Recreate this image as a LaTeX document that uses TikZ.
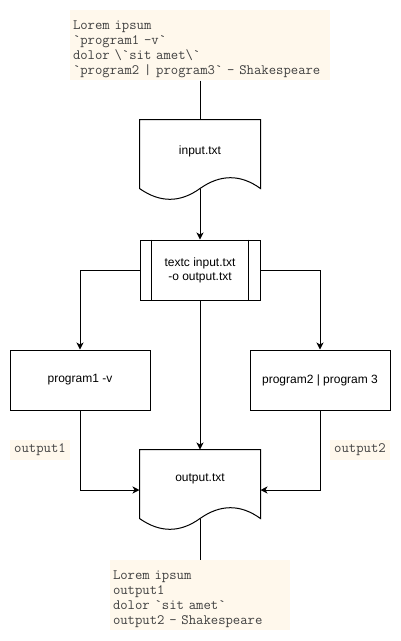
\documentclass[tikz,border=0pt]{standalone}
\usepackage{fontspec}
\setmainfont{Liberation Sans}
\usetikzlibrary{calc,arrows.meta}
\definecolor{notebg}{RGB}{255,248,236}

\begin{document}
\begin{tikzpicture}[x=1pt,y=-1pt,line width=1pt,
    font=\fontsize{12}{14}\selectfont,
    note/.style={fill=notebg,text=black!75,inner xsep=3pt,inner ysep=0pt,align=left,
      minimum height=70,font=\ttfamily\fontsize{14.3}{15}\selectfont,
      execute at begin node={\rule{0pt}{17pt}}},
    tag/.style={fill=notebg,text=black!75,minimum width=60,minimum height=20,inner sep=0pt,
      font=\ttfamily\fontsize{14.3}{15}\selectfont},
    box/.style={draw,minimum width=140,minimum height=60,inner sep=0pt,align=center},
    doc/.style={minimum width=120,minimum height=80,inner sep=0pt},
    arr/.style={-{Stealth[length=7pt,width=7pt,inset=2pt]}}]
  \useasboundingbox (0,0) rectangle (401,641);
  % notes
  \node[note,text width=254] (srcnote) at (200,45) {Lorem ipsum\\`program1 -v`\\dolor \textbackslash`sit amet\textbackslash`\\`program2 | program3` - Shakespeare};
  \node[note,text width=174] (dstnote) at (200,595) {Lorem ipsum\\output1\\dolor `sit amet`\\output2 - Shakespeare};
  % documents
  \node[doc,label={[yshift=9pt]center:input.txt}] (input) at (200,160) {};
  \node[doc,label={[yshift=11pt]center:output.txt}] (output) at (200,490) {};
  \foreach \d in {input,output}{
    \draw (\d.south west) ++(0,-12) -- (\d.north west) -- (\d.north east) -- ($(\d.south east)+(0,-12)$)
      .. controls ($(\d.south east)+(-20,-26.4)$) and ($(\d.south east)+(-40,-26.4)$) .. ($(\d.south)+(0,-12)$) coordinate (\d-w)
      .. controls ($(\d.south)+(-20,2.4)$) and ($(\d.south)+(-40,2.4)$) .. ($(\d.south west)+(0,-12)$);
  }
  % process
  \node[box,minimum width=120] (textc) at (200,270) {textc input.txt\\-o output.txt};
  \draw ([xshift=12pt]textc.north west) -- ([xshift=12pt]textc.south west);
  \draw ([xshift=-12pt]textc.north east) -- ([xshift=-12pt]textc.south east);
  \node[box] (prog1) at (80,380) {program1 -v};
  \node[box] (prog2) at (320,380) {program2 | program 3};
  \node[tag] (out1) at (40,450) {output1};
  \node[tag] (out2) at (360,450) {output2};
  % connectors
  \draw (srcnote) -- (input);
  \draw[arr] (input-w) -- (textc);
  \draw[arr] (textc.west) -| (prog1);
  \draw[arr] (textc.east) -| (prog2);
  \draw[arr] (textc) -- (output);
  \draw[arr] (prog1) |- (output);
  \draw[arr] (prog2) |- (output);
  \draw (output-w) -- (dstnote);
\end{tikzpicture}
\end{document}
